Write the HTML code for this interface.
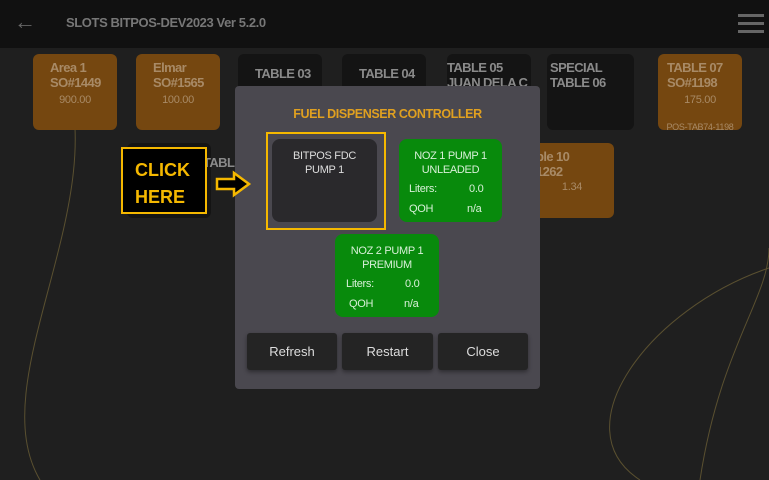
<!DOCTYPE html><html><head><style>
body{margin:0;width:769px;height:480px;background:#1f1f1f;font-family:"Liberation Sans",sans-serif;position:relative;overflow:hidden}
div{position:absolute;box-sizing:border-box}
.t{border-radius:6px;color:#8a8a8a;font-weight:bold;font-size:13px;letter-spacing:-0.6px;line-height:15px;padding:6px 0 0 17px}
.o{background:#754710;color:#a88a66}
.d{background:#141414}
.s{font-size:11px;font-weight:normal;text-align:center;padding:0;width:100%;left:0;letter-spacing:-0.3px}
.g{background:#088a0c;border-radius:8px;color:#d8f0d8;font-size:11px;letter-spacing:-0.3px;text-align:center}
.b{background:#242424;border-radius:3px;color:#ddd;font-size:13px;text-align:center;line-height:37px;top:333px;height:37px;box-shadow:0 2px 4px #0006}
</style></head><body>
<div style="left:0;top:0;width:769px;height:48px;background:#111"></div>
<div style="left:14px;top:9px;color:#666;font-size:22px">&#8592;</div>
<div style="left:66px;top:15px;color:#777;font-weight:bold;font-size:13px;letter-spacing:-0.4px">SLOTS BITPOS-DEV2023 Ver 5.2.0</div>
<div style="left:738px;top:14px;width:26px;height:3px;background:#666;box-shadow:0 8px 0 #666,0 16px 0 #666"></div>
<svg style="position:absolute;left:0;top:48px" width="769" height="432"><path d="M60 10 C120 150 -20 330 40 432" stroke="#5a5030" fill="none"/><path d="M769 220 C650 260 560 380 640 432" stroke="#5a5030" fill="none"/><path d="M700 432 C720 300 769 250 769 200" stroke="#5a5030" fill="none"/></svg>
<div class="t o" style="left:33px;top:54px;width:84px;height:76px">Area 1<br>SO#1449<div class="s" style="top:39px">900.00</div></div>
<div class="t o" style="left:136px;top:54px;width:84px;height:76px">Elmar<br>SO#1565<div class="s" style="top:39px">100.00</div></div>
<div class="t d" style="left:238px;top:54px;width:84px;height:76px;padding-top:12px">TABLE 03</div>
<div class="t d" style="left:342px;top:54px;width:84px;height:76px;padding-top:12px">TABLE 04</div>
<div class="t d" style="left:447px;top:54px;width:84px;height:76px;padding-left:0">TABLE 05<br>JUAN DELA C</div>
<div class="t d" style="left:547px;top:54px;width:87px;height:76px;padding-left:3px">SPECIAL<br>TABLE 06</div>
<div class="t o" style="left:658px;top:54px;width:84px;height:76px;padding-left:9px">TABLE 07<br>SO#1198<div class="s" style="top:39px">175.00</div><div class="s" style="top:66px;font-size:9px">POS-TAB74-1198</div></div>
<div class="t d" style="left:127px;top:143px;width:84px;height:75px;padding:12px 0 0 76px">TABL</div>
<div class="t o" style="left:530px;top:143px;width:84px;height:75px;padding-left:6px">ble 10<br>1262<div class="s" style="top:37px">1.34</div></div>
<div style="left:235px;top:86px;width:305px;height:303px;background:#4a484f;border-radius:4px"></div>
<div style="left:235px;top:107px;width:305px;text-align:center;color:#e0a020;font-weight:bold;font-size:12.5px;letter-spacing:-0.4px">FUEL DISPENSER CONTROLLER</div>
<div style="left:121px;top:147px;width:86px;height:67px;background:#000;border:2px solid #f5b800;color:#f5b800;font-weight:bold;font-size:18px;line-height:27px;padding:8px 0 0 12px">CLICK<br>HERE</div>
<svg style="position:absolute;left:214px;top:170px" width="40" height="28"><path d="M3 9 H20 V3 L35 14 L20 25 V19 H3 Z" fill="#000" stroke="#f5b800" stroke-width="2.5"/></svg>
<div style="left:266px;top:132px;width:120px;height:98px;border:2px solid #f5b800"></div>
<div style="left:272px;top:139px;width:105px;height:83px;background:#2a292c;border-radius:8px;color:#ddd;font-size:11px;letter-spacing:-0.3px;text-align:center;padding-top:10px;line-height:14px">BITPOS FDC<br>PUMP 1</div>
<div class="g" style="left:399px;top:139px;width:103px;height:83px;padding-top:10px;line-height:14px">NOZ 1 PUMP 1<br>UNLEADED
<div style="left:10px;top:43px">Liters:</div><div style="left:70px;top:43px">0.0</div><div style="left:10px;top:63px">QOH</div><div style="left:68px;top:63px">n/a</div></div>
<div class="g" style="left:335px;top:234px;width:104px;height:83px;padding-top:10px;line-height:14px">NOZ 2 PUMP 1<br>PREMIUM
<div style="left:11px;top:43px">Liters:</div><div style="left:70px;top:43px">0.0</div><div style="left:14px;top:63px">QOH</div><div style="left:69px;top:63px">n/a</div></div>
<div class="b" style="left:247px;width:90px">Refresh</div>
<div class="b" style="left:342px;width:91px">Restart</div>
<div class="b" style="left:438px;width:90px">Close</div>
</body></html>
